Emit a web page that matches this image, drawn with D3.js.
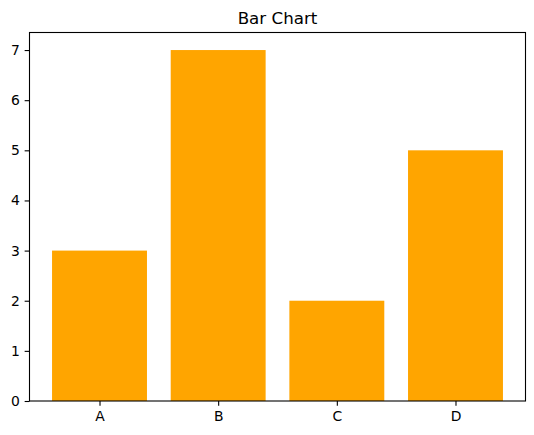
<!DOCTYPE html>
<html>
<head>
<meta charset="utf-8">
<script src="https://cdn.jsdelivr.net/npm/d3@7"></script>
<style>
  body { margin: 0; background: #fff; }
  svg { display: block; font-family: "DejaVu Sans", sans-serif; }
</style>
</head>
<body>
<div id="wrapper"></div>
<script>
// data
const categories = ["A", "B", "C", "D"]
const values = [3, 7, 2, 5]
const yTicks = [0, 1, 2, 3, 4, 5, 6, 7]
const title = "Bar Chart"

// dimensions
const dimensions = {
  width: 534,
  height: 435,
  margin: { top: 32.5, right: 8.5, bottom: 34, left: 29.5 },
}
dimensions.boundedWidth = dimensions.width - dimensions.margin.left - dimensions.margin.right
dimensions.boundedHeight = dimensions.height - dimensions.margin.top - dimensions.margin.bottom

// canvas
const wrapper = d3.select("#wrapper")
  .append("svg")
    .attr("width", dimensions.width)
    .attr("height", dimensions.height)

const bounds = wrapper.append("g")
  .attr("transform", `translate(${dimensions.margin.left}, ${dimensions.margin.top})`)

// scales (matplotlib-like margins)
const barWidth = 0.8
const xPad = (categories.length - 1 + barWidth) * 0.05
const xScale = d3.scaleLinear()
  .domain([-barWidth / 2 - xPad, categories.length - 1 + barWidth / 2 + xPad])
  .range([0, dimensions.boundedWidth])

const yMax = d3.max(values) * 1.05
const yScale = d3.scaleLinear()
  .domain([0, yMax])
  .range([dimensions.boundedHeight, 0])

// bars
bounds.selectAll("rect.bar")
  .data(values)
  .enter().append("rect")
    .attr("class", "bar")
    .attr("x", (d, i) => xScale(i - barWidth / 2))
    .attr("width", (d, i) => xScale(i + barWidth / 2) - xScale(i - barWidth / 2))
    .attr("y", d => yScale(d))
    .attr("height", d => yScale(0) - yScale(d))
    .attr("fill", "orange")

// axes
const tickSize = 4.86
const xAxis = bounds.append("g")
  .attr("transform", `translate(0, ${dimensions.boundedHeight})`)
  .call(d3.axisBottom(xScale)
    .tickValues(d3.range(categories.length))
    .tickFormat(i => categories[i])
    .tickSize(tickSize)
    .tickPadding(4.86))

const yAxis = bounds.append("g")
  .call(d3.axisLeft(yScale)
    .tickValues(yTicks)
    .tickSize(tickSize)
    .tickPadding(4.86))

;[xAxis, yAxis].forEach(ax => {
  ax.select(".domain").remove()
  ax.selectAll(".tick line").attr("stroke", "#000").attr("stroke-width", 1.1)
  ax.selectAll(".tick text")
    .attr("fill", "#000")
    .style("font-size", "13.9px")
    .style("font-family", "DejaVu Sans, sans-serif")
})

// frame
bounds.append("rect")
  .attr("width", dimensions.boundedWidth)
  .attr("height", dimensions.boundedHeight)
  .attr("fill", "none")
  .attr("stroke", "#000")
  .attr("stroke-width", 1.1)

// title
bounds.append("text")
  .attr("x", dimensions.boundedWidth / 2)
  .attr("y", -8.3)
  .attr("text-anchor", "middle")
  .style("font-size", "16.7px")
  .text(title)
</script>
</body>
</html>
